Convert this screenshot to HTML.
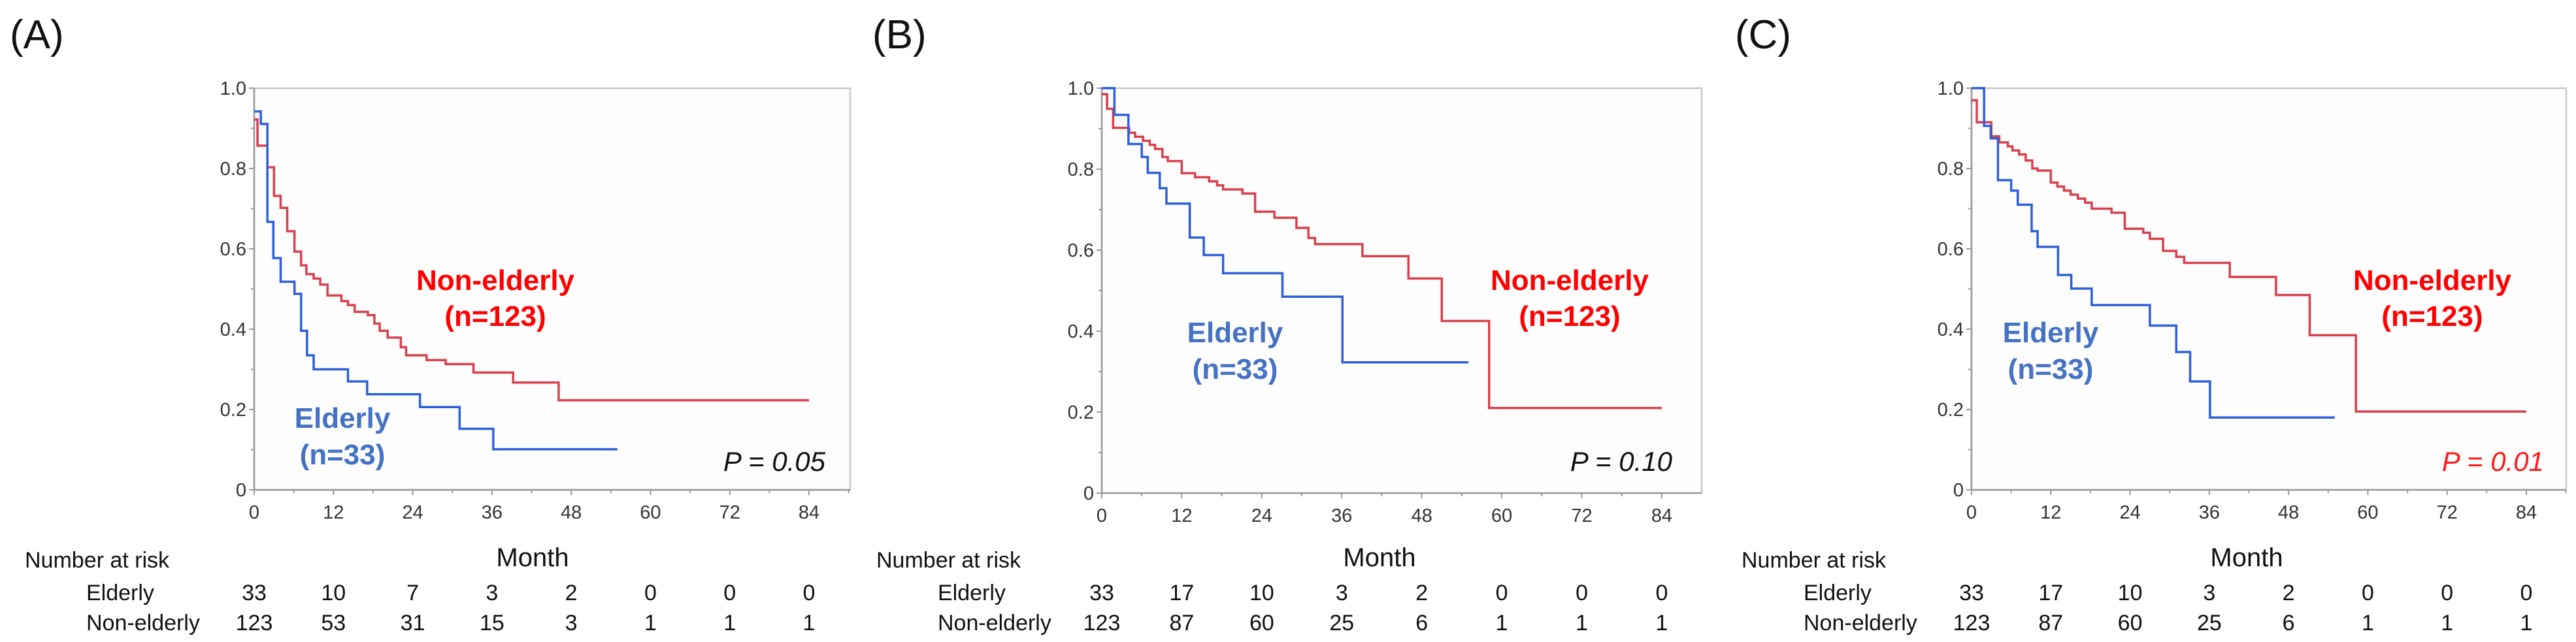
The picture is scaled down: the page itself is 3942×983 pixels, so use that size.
<!DOCTYPE html>
<html><head><meta charset="utf-8"><style>
html,body{margin:0;padding:0;background:#fff;}
svg{display:block;font-family:"Liberation Sans",sans-serif;}
</style></head><body>
<svg id="chart" width="3942" height="983" viewBox="0 0 3942 983" xmlns="http://www.w3.org/2000/svg"></svg>
<script>
// ---- Data ----
const xTicks = [0,12,24,36,48,60,72,84];
const yTicks = [0,0.2,0.4,0.6,0.8,1.0];
const yTickLabels = ["0","0.2","0.4","0.6","0.8","1.0"];
const riskGroups = ["Elderly","Non-elderly"];

const aElderlyT = [0,1,2,2.9,4,6.1,7.1,8,9,14.2,17.1,25.1,31.1,36.2];
const aElderlyS = [0.942,0.911,0.667,0.577,0.518,0.488,0.396,0.335,0.300,0.270,0.238,0.206,0.152,0.101];
const aElderlyEnd = 55;
const aNonT = [0,0.5,2,3,4,5,6.1,7.1,7.9,9,10,11.1,13.2,14.2,15.2,17.2,18.2,19,20.2,22.2,23,26.1,29,33.2,39.2,46.1];
const aNonS = [0.922,0.857,0.803,0.732,0.702,0.644,0.593,0.559,0.537,0.526,0.511,0.484,0.470,0.460,0.443,0.435,0.414,0.396,0.379,0.355,0.335,0.323,0.313,0.292,0.267,0.223];
const aNonEnd = 84;
const aRiskElderly = [33,10,7,3,2,0,0,0];
const aRiskNon = [123,53,31,15,3,1,1,1];

const bElderlyT = [0,1.9,4,6,6.9,8.7,9.7,13.2,15.3,18.2,27.1,36.1];
const bElderlyS = [1.0,0.934,0.862,0.830,0.791,0.753,0.715,0.631,0.588,0.543,0.485,0.323];
const bElderlyEnd = 55;
const bNonT = [0,0.8,1.7,4.1,5,6.2,7.2,8,9.1,9.9,12,14,16.1,17.3,18.2,21.1,23,25.9,29.2,31,32,39.1,46,51,58.1];
const bNonS = [0.985,0.949,0.902,0.89,0.88,0.87,0.86,0.85,0.83,0.82,0.79,0.78,0.77,0.76,0.75,0.74,0.695,0.68,0.655,0.63,0.615,0.585,0.53,0.425,0.21];
const bNonEnd = 84;
const bRiskElderly = [33,17,10,3,2,0,0,0];
const bRiskNon = [123,87,60,25,6,1,1,1];

const cElderlyT = [0,1.9,2.9,4,6,7,9.1,10,13.1,15.1,18.2,27,31,33.1,36.1];
const cElderlyS = [1.0,0.906,0.875,0.771,0.745,0.710,0.644,0.605,0.535,0.501,0.460,0.409,0.343,0.270,0.180];
const cElderlyEnd = 55;
const cNonT = [0,0.8,3,4.2,5.5,6.2,7.2,8.2,9.2,10,12,13,14,15,16.1,17.2,18.2,21.2,23.2,26,27,29,31,32.2,39.1,46.1,51.2,58.2];
const cNonS = [0.97,0.915,0.88,0.865,0.855,0.845,0.835,0.82,0.80,0.795,0.765,0.755,0.745,0.735,0.725,0.715,0.70,0.69,0.65,0.64,0.625,0.595,0.58,0.565,0.53,0.485,0.385,0.195];
const cNonEnd = 84;
const cRiskElderly = [33,17,10,3,2,0,0,0];
const cRiskNon = [123,87,60,25,6,1,1,1];

const pValues = ["0.05","0.10","0.01"];

// ---- Layout ----
const panels = [
 {id:"a",letter:"(A)",lx:15,x0:389,x84:1238,right:1301,top:135,bot:750,
  narX:38,grpX:132,monthX:815,nonX:758,nonY:444,eldX:524,eldY:655,pX:1263,pColor:"#111",
  eT:aElderlyT,eS:aElderlyS,eEnd:aElderlyEnd,nT:aNonT,nS:aNonS,nEnd:aNonEnd,rE:aRiskElderly,rN:aRiskNon,p:pValues[0]},
 {id:"b",letter:"(B)",lx:1335,x0:1686,x84:2543,right:2604,top:135,bot:755,
  narX:1341,grpX:1435,monthX:2111,nonX:2402,nonY:444,eldX:1890,eldY:524,pX:2559,pColor:"#111",
  eT:bElderlyT,eS:bElderlyS,eEnd:bElderlyEnd,nT:bNonT,nS:bNonS,nEnd:bNonEnd,rE:bRiskElderly,rN:bRiskNon,p:pValues[1]},
 {id:"c",letter:"(C)",lx:2655,x0:3017,x84:3866,right:3927,top:135,bot:750,
  narX:2665,grpX:2760,monthX:3438,nonX:3722,nonY:444,eldX:3138,eldY:524,pX:3893,pColor:"#ff1a1a",
  eT:cElderlyT,eS:cElderlyS,eEnd:cElderlyEnd,nT:cNonT,nS:cNonS,nEnd:cNonEnd,rE:cRiskElderly,rN:cRiskNon,p:pValues[2]}
];

const NS="http://www.w3.org/2000/svg";
const svg=document.getElementById('chart');
function mk(tag,attrs,parent,text){
  const e=document.createElementNS(NS,tag);
  for(const k in attrs)e.setAttribute(k,attrs[k]);
  if(text!==undefined)e.textContent=text;
  parent.appendChild(e);return e;
}
function stepPath(T,S,end,xs,ys){
  let d="M"+xs(T[0])+","+ys(S[0]);
  for(let i=1;i<T.length;i++){d+=" H"+xs(T[i])+" V"+ys(S[i]);}
  d+=" H"+xs(end);return d;
}

panels.forEach(p=>{
  const g=mk('g',{},svg);
  
  
  const xs=m=>p.x0+(p.x84-p.x0)*m/84;
  const ys=v=>p.bot-(p.bot-p.top)*v;

  const lt=mk('text',{x:p.lx,y:74,'font-size':62,fill:'#111'},g,p.letter);
  
  

  const box=mk('rect',{x:p.x0,y:p.top,width:p.right-p.x0,height:p.bot-p.top,fill:'#fdfdfd',stroke:'#c8c8c8','stroke-width':2.5},g);
  
  
  const ax=mk('path',{d:`M${p.x0},${p.top} V${p.bot} H${p.right}`,fill:'none',stroke:'#999','stroke-width':2.5},g);
  
  

  // y ticks
  for(let v=0;v<=10;v++){
    const y=ys(v/10);
    mk('line',{x1:p.x0-(v%2?5:8),x2:p.x0,y1:y,y2:y,stroke:'#999','stroke-width':2},g);
  }
  yTicks.forEach((v,i)=>{
    const t=mk('text',{x:p.x0-12,y:ys(v)+10,'font-size':29,fill:'#333','text-anchor':'end'},g,yTickLabels[i]);
    
    
  });
  // x ticks
  for(let m=0;m<=90;m+=6){
    const x=xs(m); if(x>p.right)break;
    mk('line',{x1:x,x2:x,y1:p.bot,y2:p.bot+(m%12?5:8),stroke:'#999','stroke-width':2},g);
  }
  xTicks.forEach((m,i)=>{
    const t=mk('text',{x:xs(m),y:p.bot+44,'font-size':29,fill:'#333','text-anchor':'middle'},g,String(m));
    
    
  });

  // curves
  const nl=mk('path',{d:stepPath(p.nT,p.nS,p.nEnd,xs,ys),fill:'none',stroke:'#d8404e','stroke-width':3.5},g);
  
  
  const el=mk('path',{d:stepPath(p.eT,p.eS,p.eEnd,xs,ys),fill:'none',stroke:'#2d5fdc','stroke-width':3.5},g);
  
  

  // labels
  const n1=mk('text',{x:p.nonX,y:p.nonY,'font-size':44,'font-weight':'bold',fill:'#ff0000','text-anchor':'middle'},g,'Non-elderly');
  
  
  const n2=mk('text',{x:p.nonX,y:p.nonY+55,'font-size':44,'font-weight':'bold',fill:'#ff0000','text-anchor':'middle'},g,'(n=123)');
  
  
  const e1=mk('text',{x:p.eldX,y:p.eldY,'font-size':44,'font-weight':'bold',fill:'#4472c4','text-anchor':'middle'},g,'Elderly');
  
  
  const e2=mk('text',{x:p.eldX,y:p.eldY+56,'font-size':44,'font-weight':'bold',fill:'#4472c4','text-anchor':'middle'},g,'(n=33)');
  
  
  const pv=mk('text',{x:p.pX,y:721,'font-size':42,'font-style':'italic',fill:p.pColor,'text-anchor':'end'},g,'P = '+p.p);
  
  

  // month + risk table
  const mo=mk('text',{x:p.monthX,y:867,'font-size':40,fill:'#111','text-anchor':'middle'},g,'Month');
  
  
  const nar=mk('text',{x:p.narX,y:869,'font-size':34,fill:'#111'},g,'Number at risk');
  
  
  [p.rE,p.rN].forEach((row,ri)=>{
    const y=ri?965:919;
    const gl=mk('text',{x:p.grpX,y:y,'font-size':34,fill:'#111'},g,riskGroups[ri]);
    
    
    row.forEach((v,i)=>{
      const t=mk('text',{x:xs(xTicks[i]),y:y,'font-size':34,fill:'#111','text-anchor':'middle'},g,String(v));
      
      
    });
  });
});
</script>
</body></html>
